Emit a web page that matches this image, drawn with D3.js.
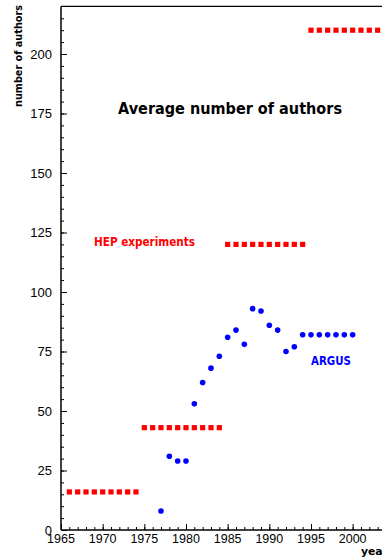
<!DOCTYPE html>
<html><head><meta charset="utf-8">
<script src="https://cdn.jsdelivr.net/npm/d3@7"></script>
<style>body{margin:0;background:#fff}svg{display:block}</style>
</head><body>
<svg id="c" width="382" height="559"></svg>
<script>
// HEP experiments: average number of authors per decade-ish block
const hepYears = [1966,1967,1968,1969,1970,1971,1972,1973,1974,
                  1975,1976,1977,1978,1979,1980,1981,1982,1983,1984,
                  1985,1986,1987,1988,1989,1990,1991,1992,1993,1994,
                  1995,1996,1997,1998,1999,2000,2001,2002,2003,2004];
const hepValues = [16,16,16,16,16,16,16,16,16,
                   43,43,43,43,43,43,43,43,43,43,
                   120,120,120,120,120,120,120,120,120,120,
                   210,210,210,210,210,210,210,210,210,210];
// ARGUS
const argusYears  = [1977,1978,1979,1980,1981,1982,1983,1984,1985,1986,1987,1988,1989,1990,1991,1992,1993,1994,1995,1996,1997,1998,1999,2000];
const argusValues = [8,31,29,29,53,62,68,73,81,84,78,93,92,86,84,75,77,82,82,82,82,82,82,82];
const xTicks = [1965,1970,1975,1980,1985,1990,1995,2000];
const yTicks = [0,25,50,75,100,125,150,175,200];

const svg = d3.select("#c");
const x = d3.scaleLinear().domain([1965, 2004]).range([61, 61 + 39 * 8.333]);
const y = d3.scaleLinear().domain([0, 220]).range([530, 530 - 220 * 2.38]);

const frame = svg.append("g");
// frame lines
frame.append("line").attr("x1", x(1965)).attr("x2", x(2004)).attr("y1", y(220)).attr("y2", y(220)).attr("stroke", "#000").attr("stroke-width", 1.2);

// Y axis
const yAxis = d3.axisRight(y).tickValues(yTicks).tickSize(6).tickFormat("");
const yg = svg.append("g").attr("transform", `translate(${x(1965)},0)`).call(yAxis);
const yMinor = d3.axisRight(y).tickValues(d3.range(0, 220, 5)).tickSize(3).tickFormat("");
svg.append("g").attr("transform", `translate(${x(1965)},0)`).call(yMinor);
svg.selectAll(".domain").remove();
svg.append("line").attr("x1", x(1965)).attr("x2", x(1965)).attr("y1", y(0)).attr("y2", y(220)).attr("stroke", "#000").attr("stroke-width", 1.5);
svg.selectAll(".tick line").attr("stroke", "#000");
svg.append("g").selectAll("text").data(yTicks).join("text")
  .attr("x", 52).attr("y", d => y(d)).attr("dy", "0.36em").attr("text-anchor", "end")
  .attr("font-family", "Liberation Sans, Arial, sans-serif").attr("font-size", 13).text(d => d);

// X axis
const xAxis = d3.axisTop(x).tickValues(xTicks).tickSize(6).tickFormat("");
const xg = svg.append("g").attr("transform", `translate(0,${y(0)})`).call(xAxis);
const xMinor = d3.axisTop(x).tickValues(d3.range(1965, 2005, 1)).tickSize(3).tickFormat("");
const xg2 = svg.append("g").attr("transform", `translate(0,${y(0)})`).call(xMinor);
xg.select(".domain").remove(); xg2.select(".domain").remove();
svg.selectAll(".tick line").attr("stroke", "#000");
svg.append("line").attr("x1", x(1965)).attr("x2", x(2004)).attr("y1", y(0)).attr("y2", y(0)).attr("stroke", "#000").attr("stroke-width", 1.5);
svg.append("g").selectAll("text").data(xTicks).join("text")
  .attr("x", d => x(d)).attr("y", 542.5).attr("text-anchor", "middle")
  .attr("font-family", "Liberation Sans, Arial, sans-serif").attr("font-size", 12.5).text(d => d);

// HEP squares
svg.append("g").selectAll("rect").data(hepYears.map((d, i) => [d, hepValues[i]])).join("rect")
  .attr("x", d => x(d[0]) - 2.6).attr("y", d => y(d[1]) - 2.6).attr("width", 5.2).attr("height", 5.2)
  .attr("fill", "#ff0000");

// ARGUS dots
svg.append("g").selectAll("circle").data(argusYears.map((d, i) => [d, argusValues[i]])).join("circle")
  .attr("cx", d => x(d[0])).attr("cy", d => y(d[1])).attr("r", 2.8).attr("fill", "#0000ff");

// Texts
const bold = "DejaVu Sans, Verdana, sans-serif";
svg.append("text").attr("x", 118).attr("y", 114).attr("font-family", bold).attr("font-weight", "bold")
  .attr("font-size", 15).attr("textLength", 224).attr("lengthAdjust", "spacingAndGlyphs").text("Average number of authors");
svg.append("text").attr("x", 94).attr("y", 245.5).attr("font-family", bold).attr("font-weight", "bold")
  .attr("font-size", 12).attr("fill", "#ff0000").attr("textLength", 101).attr("lengthAdjust", "spacingAndGlyphs").text("HEP experiments");
svg.append("text").attr("x", 311).attr("y", 364.5).attr("font-family", bold).attr("font-weight", "bold")
  .attr("font-size", 11.5).attr("fill", "#0000ff").attr("textLength", 40).attr("lengthAdjust", "spacingAndGlyphs").text("ARGUS");
svg.append("text").attr("transform", "translate(21.5,5) rotate(-90)").attr("text-anchor", "end")
  .attr("font-family", bold).attr("font-weight", "bold").attr("font-size", 11)
  .attr("textLength", 102).attr("lengthAdjust", "spacingAndGlyphs").text("number of authors");
svg.append("text").attr("x", 361).attr("y", 554.5).attr("font-family", bold).attr("font-weight", "bold")
  .attr("font-size", 11).attr("textLength", 27).attr("lengthAdjust", "spacingAndGlyphs").text("year");
</script>
</body></html>
